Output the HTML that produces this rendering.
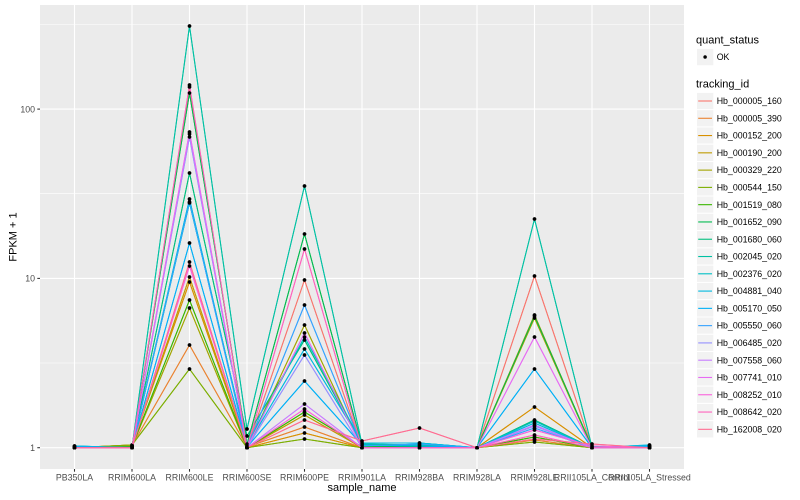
<!DOCTYPE html>
<html><head><meta charset="utf-8"><style>
html,body{margin:0;padding:0;background:#fff;}
svg{display:block;font-family:"Liberation Sans",Arial,sans-serif;}
</style></head><body>
<svg width="800" height="500" viewBox="0 0 800 500" xmlns="http://www.w3.org/2000/svg">
<defs>
<marker id="pt" markerUnits="userSpaceOnUse" markerWidth="4" markerHeight="4" refX="2" refY="2" viewBox="0 0 4 4"><circle cx="2" cy="2" r="1.75" fill="#000"/></marker>
</defs>
<rect x="0" y="0" width="800" height="500" fill="#fff"/>
<rect x="40" y="5" width="644" height="464" fill="#EBEBEB"/>
<g stroke="#fff" stroke-width="0.55">
<line x1="40" x2="684" y1="363" y2="363"/>
<line x1="40" x2="684" y1="193.7" y2="193.7"/>
<line x1="40" x2="684" y1="24.4" y2="24.4"/>
</g>
<g stroke="#fff" stroke-width="1.1">
<line x1="40" x2="684" y1="447.7" y2="447.7"/>
<line x1="40" x2="684" y1="278.4" y2="278.4"/>
<line x1="40" x2="684" y1="109.1" y2="109.1"/>
<line x1="74.5" x2="74.5" y1="5" y2="469"/>
<line x1="132" x2="132" y1="5" y2="469"/>
<line x1="189.5" x2="189.5" y1="5" y2="469"/>
<line x1="247" x2="247" y1="5" y2="469"/>
<line x1="304.5" x2="304.5" y1="5" y2="469"/>
<line x1="362" x2="362" y1="5" y2="469"/>
<line x1="419.5" x2="419.5" y1="5" y2="469"/>
<line x1="477" x2="477" y1="5" y2="469"/>
<line x1="534.5" x2="534.5" y1="5" y2="469"/>
<line x1="592" x2="592" y1="5" y2="469"/>
<line x1="649.5" x2="649.5" y1="5" y2="469"/>
</g>
<g fill="none" stroke-width="1.05" stroke-linejoin="round">
<polyline id="s1" stroke="#F8766D" points="74.5,447.7 132,447 189.5,87 247,447.7 304.5,280 362,447.7 419.5,447.7 477,447.7 534.5,276 592,447.7 649.5,447.7"/>
<polyline id="s2" stroke="#EA8331" points="74.5,447.7 132,445.5 189.5,345 247,447 304.5,427 362,447.7 419.5,447.7 477,447.7 534.5,440 592,447.7 649.5,447.7"/>
<polyline id="s3" stroke="#D89000" points="74.5,447.7 132,445 189.5,282 247,447.7 304.5,433 362,447.7 419.5,447.7 477,447.7 534.5,407 592,447.7 649.5,447.7"/>
<polyline id="s4" stroke="#C09B00" points="74.5,447.7 132,446 189.5,277 247,447.7 304.5,415 362,447.7 419.5,447 477,447.7 534.5,315 592,447.7 649.5,447.7"/>
<polyline id="s5" stroke="#A3A500" points="74.5,447.7 132,446.5 189.5,308 247,447.7 304.5,325 362,447.7 419.5,447.7 477,447.7 534.5,318 592,447.7 649.5,447.7"/>
<polyline id="s6" stroke="#7CAE00" points="74.5,447.7 132,445 189.5,369 247,447.7 304.5,439 362,447.7 419.5,447.7 477,447.7 534.5,442 592,447.7 649.5,447.7"/>
<polyline id="s7" stroke="#39B600" points="74.5,447.7 132,446.5 189.5,300 247,447.7 304.5,412 362,447 419.5,447.7 477,447.7 534.5,437 592,447.7 649.5,447"/>
<polyline id="s8" stroke="#00BB4E" points="74.5,447.7 132,447 189.5,93 247,444 304.5,234 362,446 419.5,447 477,447.7 534.5,316 592,447 649.5,447.7"/>
<polyline id="s9" stroke="#00BF7D" points="74.5,447.7 132,447.7 189.5,173 247,436 304.5,340 362,445 419.5,446 477,447.7 534.5,420 592,447.7 649.5,447"/>
<polyline id="s10" stroke="#00C1A3" points="74.5,447 132,447.7 189.5,26 247,429 304.5,186 362,444 419.5,445 477,447.7 534.5,219 592,447 649.5,446"/>
<polyline id="s11" stroke="#00BFC4" points="74.5,446 132,447.7 189.5,203 247,444 304.5,337 362,443 419.5,443 477,447.7 534.5,421 592,447.7 649.5,446"/>
<polyline id="s12" stroke="#00BAE0" points="74.5,446 132,447.7 189.5,199 247,446 304.5,349 362,443 419.5,443 477,447.7 534.5,423 592,447.7 649.5,445"/>
<polyline id="s13" stroke="#00B0F6" points="74.5,446.5 132,447.5 189.5,243 247,447 304.5,381 362,445 419.5,446 477,447.7 534.5,369 592,447.7 649.5,446"/>
<polyline id="s14" stroke="#35A2FF" points="74.5,447.7 132,447.7 189.5,202 247,447.7 304.5,305 362,446 419.5,444 477,447.7 534.5,428 592,447.7 649.5,447"/>
<polyline id="s15" stroke="#9590FF" points="74.5,447.7 132,447.7 189.5,137 247,447.7 304.5,355 362,447.7 419.5,447.7 477,447.7 534.5,426 592,447.7 649.5,447.7"/>
<polyline id="s16" stroke="#C77CFF" points="74.5,447.7 132,447.7 189.5,134 247,447.7 304.5,404 362,447.7 419.5,447.7 477,447.7 534.5,425 592,447.7 649.5,447.7"/>
<polyline id="s17" stroke="#E76BF3" points="74.5,447.7 132,447.7 189.5,132 247,447.7 304.5,333 362,447.7 419.5,447.7 477,447.7 534.5,337 592,447.7 649.5,447.7"/>
<polyline id="s18" stroke="#FA62DB" points="74.5,447.7 132,447.7 189.5,266 247,447.7 304.5,409 362,447.7 419.5,447.7 477,447.7 534.5,430 592,446 649.5,447.7"/>
<polyline id="s19" stroke="#FF62BC" points="74.5,447.7 132,447.7 189.5,85 247,447.7 304.5,249 362,447.7 419.5,447.7 477,447.7 534.5,435 592,447.7 649.5,447.7"/>
<polyline id="s20" stroke="#FF6C91" points="74.5,447.7 132,447.7 189.5,262 247,447.7 304.5,420 362,441 419.5,428 477,447.7 534.5,439 592,444 649.5,447.7"/>
</g>
<g fill="none" stroke="none" marker-start="url(#pt)" marker-mid="url(#pt)" marker-end="url(#pt)">
<use href="#s1"/><use href="#s2"/><use href="#s3"/><use href="#s4"/><use href="#s5"/>
<use href="#s6"/><use href="#s7"/><use href="#s8"/><use href="#s9"/><use href="#s10"/>
<use href="#s11"/><use href="#s12"/><use href="#s13"/><use href="#s14"/><use href="#s15"/>
<use href="#s16"/><use href="#s17"/><use href="#s18"/><use href="#s19"/><use href="#s20"/>
</g>
<g fill="#000" stroke="none">
<circle cx="74.5" cy="447.7" r="1.75"/><circle cx="74.5" cy="446" r="1.75"/><circle cx="74.5" cy="447" r="1.75"/>
<circle cx="132" cy="447.7" r="1.75"/><circle cx="132" cy="445.5" r="1.75"/><circle cx="132" cy="446.5" r="1.75"/>
<circle cx="189.5" cy="26" r="1.75"/><circle cx="189.5" cy="87" r="1.75"/><circle cx="189.5" cy="93" r="1.75"/><circle cx="189.5" cy="85" r="1.75"/>
<circle cx="189.5" cy="132" r="1.75"/><circle cx="189.5" cy="134" r="1.75"/><circle cx="189.5" cy="137" r="1.75"/><circle cx="189.5" cy="173" r="1.75"/>
<circle cx="189.5" cy="199" r="1.75"/><circle cx="189.5" cy="202" r="1.75"/><circle cx="189.5" cy="203" r="1.75"/><circle cx="189.5" cy="243" r="1.75"/>
<circle cx="189.5" cy="262" r="1.75"/><circle cx="189.5" cy="266" r="1.75"/><circle cx="189.5" cy="277" r="1.75"/><circle cx="189.5" cy="282" r="1.75"/>
<circle cx="189.5" cy="300" r="1.75"/><circle cx="189.5" cy="308" r="1.75"/><circle cx="189.5" cy="345" r="1.75"/><circle cx="189.5" cy="369" r="1.75"/>
<circle cx="247" cy="429" r="1.75"/><circle cx="247" cy="436" r="1.75"/><circle cx="247" cy="444" r="1.75"/><circle cx="247" cy="446" r="1.75"/><circle cx="247" cy="447.7" r="1.75"/>
<circle cx="304.5" cy="186" r="1.75"/><circle cx="304.5" cy="234" r="1.75"/><circle cx="304.5" cy="249" r="1.75"/><circle cx="304.5" cy="280" r="1.75"/>
<circle cx="304.5" cy="305" r="1.75"/><circle cx="304.5" cy="325" r="1.75"/><circle cx="304.5" cy="333" r="1.75"/><circle cx="304.5" cy="337" r="1.75"/>
<circle cx="304.5" cy="340" r="1.75"/><circle cx="304.5" cy="349" r="1.75"/><circle cx="304.5" cy="355" r="1.75"/><circle cx="304.5" cy="381" r="1.75"/>
<circle cx="304.5" cy="404" r="1.75"/><circle cx="304.5" cy="409" r="1.75"/><circle cx="304.5" cy="412" r="1.75"/><circle cx="304.5" cy="415" r="1.75"/>
<circle cx="304.5" cy="420" r="1.75"/><circle cx="304.5" cy="427" r="1.75"/><circle cx="304.5" cy="433" r="1.75"/><circle cx="304.5" cy="439" r="1.75"/>
<circle cx="362" cy="441" r="1.75"/><circle cx="362" cy="443" r="1.75"/><circle cx="362" cy="445" r="1.75"/><circle cx="362" cy="447.7" r="1.75"/>
<circle cx="419.5" cy="428" r="1.75"/><circle cx="419.5" cy="443" r="1.75"/><circle cx="419.5" cy="445" r="1.75"/><circle cx="419.5" cy="447.7" r="1.75"/>
<circle cx="477" cy="447.7" r="1.75"/>
<circle cx="534.5" cy="219" r="1.75"/><circle cx="534.5" cy="276" r="1.75"/><circle cx="534.5" cy="315" r="1.75"/><circle cx="534.5" cy="316" r="1.75"/>
<circle cx="534.5" cy="318" r="1.75"/><circle cx="534.5" cy="337" r="1.75"/><circle cx="534.5" cy="369" r="1.75"/><circle cx="534.5" cy="407" r="1.75"/>
<circle cx="534.5" cy="420" r="1.75"/><circle cx="534.5" cy="421" r="1.75"/><circle cx="534.5" cy="423" r="1.75"/><circle cx="534.5" cy="425" r="1.75"/>
<circle cx="534.5" cy="426" r="1.75"/><circle cx="534.5" cy="428" r="1.75"/><circle cx="534.5" cy="430" r="1.75"/><circle cx="534.5" cy="435" r="1.75"/>
<circle cx="534.5" cy="437" r="1.75"/><circle cx="534.5" cy="439" r="1.75"/><circle cx="534.5" cy="440" r="1.75"/><circle cx="534.5" cy="442" r="1.75"/>
<circle cx="592" cy="444" r="1.75"/><circle cx="592" cy="446" r="1.75"/><circle cx="592" cy="447.7" r="1.75"/>
<circle cx="649.5" cy="445" r="1.75"/><circle cx="649.5" cy="446" r="1.75"/><circle cx="649.5" cy="447.7" r="1.75"/>
</g>
<g stroke="#333333" stroke-width="1.07">
<line x1="37.3" x2="40" y1="447.7" y2="447.7"/>
<line x1="37.3" x2="40" y1="278.4" y2="278.4"/>
<line x1="37.3" x2="40" y1="109.1" y2="109.1"/>
<line x1="74.5" x2="74.5" y1="469" y2="471.7"/>
<line x1="132" x2="132" y1="469" y2="471.7"/>
<line x1="189.5" x2="189.5" y1="469" y2="471.7"/>
<line x1="247" x2="247" y1="469" y2="471.7"/>
<line x1="304.5" x2="304.5" y1="469" y2="471.7"/>
<line x1="362" x2="362" y1="469" y2="471.7"/>
<line x1="419.5" x2="419.5" y1="469" y2="471.7"/>
<line x1="477" x2="477" y1="469" y2="471.7"/>
<line x1="534.5" x2="534.5" y1="469" y2="471.7"/>
<line x1="592" x2="592" y1="469" y2="471.7"/>
<line x1="649.5" x2="649.5" y1="469" y2="471.7"/>
</g>
<g fill="#4D4D4D" font-size="8.8" text-anchor="end">
<text x="35" y="450.9">1</text>
<text x="35" y="281.6">10</text>
<text x="35" y="112.3">100</text>
</g>
<g fill="#4D4D4D" font-size="8.8" text-anchor="middle">
<text x="74.5" y="480.5">PB350LA</text>
<text x="132" y="480.5">RRIM600LA</text>
<text x="189.5" y="480.5">RRIM600LE</text>
<text x="247" y="480.5">RRIM600SE</text>
<text x="304.5" y="480.5">RRIM600PE</text>
<text x="362" y="480.5">RRIM901LA</text>
<text x="419.5" y="480.5">RRIM928BA</text>
<text x="477" y="480.5">RRIM928LA</text>
<text x="534.5" y="480.5">RRIM928LE</text>
<text x="592" y="480.5">RRII105LA_Control</text>
<text x="649.5" y="480.5">RRII105LA_Stressed</text>
</g>
<text x="362" y="491" font-size="11" text-anchor="middle" fill="#000">sample_name</text>
<text transform="translate(16.5,237) rotate(-90)" font-size="11" text-anchor="middle" fill="#000">FPKM + 1</text>
<text x="696" y="43.5" font-size="11" fill="#000">quant_status</text>
<rect x="696.5" y="48.4" width="17.3" height="17.3" fill="#F2F2F2" stroke="#fff" stroke-width="1"/>
<circle cx="705.1" cy="57" r="1.75" fill="#000"/>
<text x="716.7" y="60.1" font-size="8.8" fill="#000">OK</text>
<text x="696" y="87.3" font-size="11" fill="#000">tracking_id</text>
<g font-size="8.8" fill="#000">
<g transform="translate(0,101)"><rect x="696.5" y="-8.64" width="17.3" height="17.28" fill="#F2F2F2" stroke="#fff"/><line x1="698.2" x2="712" y1="0" y2="0" stroke="#F8766D" stroke-width="1.1"/><text x="716.7" y="3.1">Hb_000005_160</text></g>
<g transform="translate(0,118.28)"><rect x="696.5" y="-8.64" width="17.3" height="17.28" fill="#F2F2F2" stroke="#fff"/><line x1="698.2" x2="712" y1="0" y2="0" stroke="#EA8331" stroke-width="1.1"/><text x="716.7" y="3.1">Hb_000005_390</text></g>
<g transform="translate(0,135.56)"><rect x="696.5" y="-8.64" width="17.3" height="17.28" fill="#F2F2F2" stroke="#fff"/><line x1="698.2" x2="712" y1="0" y2="0" stroke="#D89000" stroke-width="1.1"/><text x="716.7" y="3.1">Hb_000152_200</text></g>
<g transform="translate(0,152.84)"><rect x="696.5" y="-8.64" width="17.3" height="17.28" fill="#F2F2F2" stroke="#fff"/><line x1="698.2" x2="712" y1="0" y2="0" stroke="#C09B00" stroke-width="1.1"/><text x="716.7" y="3.1">Hb_000190_200</text></g>
<g transform="translate(0,170.12)"><rect x="696.5" y="-8.64" width="17.3" height="17.28" fill="#F2F2F2" stroke="#fff"/><line x1="698.2" x2="712" y1="0" y2="0" stroke="#A3A500" stroke-width="1.1"/><text x="716.7" y="3.1">Hb_000329_220</text></g>
<g transform="translate(0,187.4)"><rect x="696.5" y="-8.64" width="17.3" height="17.28" fill="#F2F2F2" stroke="#fff"/><line x1="698.2" x2="712" y1="0" y2="0" stroke="#7CAE00" stroke-width="1.1"/><text x="716.7" y="3.1">Hb_000544_150</text></g>
<g transform="translate(0,204.68)"><rect x="696.5" y="-8.64" width="17.3" height="17.28" fill="#F2F2F2" stroke="#fff"/><line x1="698.2" x2="712" y1="0" y2="0" stroke="#39B600" stroke-width="1.1"/><text x="716.7" y="3.1">Hb_001519_080</text></g>
<g transform="translate(0,221.96)"><rect x="696.5" y="-8.64" width="17.3" height="17.28" fill="#F2F2F2" stroke="#fff"/><line x1="698.2" x2="712" y1="0" y2="0" stroke="#00BB4E" stroke-width="1.1"/><text x="716.7" y="3.1">Hb_001652_090</text></g>
<g transform="translate(0,239.24)"><rect x="696.5" y="-8.64" width="17.3" height="17.28" fill="#F2F2F2" stroke="#fff"/><line x1="698.2" x2="712" y1="0" y2="0" stroke="#00BF7D" stroke-width="1.1"/><text x="716.7" y="3.1">Hb_001680_060</text></g>
<g transform="translate(0,256.52)"><rect x="696.5" y="-8.64" width="17.3" height="17.28" fill="#F2F2F2" stroke="#fff"/><line x1="698.2" x2="712" y1="0" y2="0" stroke="#00C1A3" stroke-width="1.1"/><text x="716.7" y="3.1">Hb_002045_020</text></g>
<g transform="translate(0,273.8)"><rect x="696.5" y="-8.64" width="17.3" height="17.28" fill="#F2F2F2" stroke="#fff"/><line x1="698.2" x2="712" y1="0" y2="0" stroke="#00BFC4" stroke-width="1.1"/><text x="716.7" y="3.1">Hb_002376_020</text></g>
<g transform="translate(0,291.08)"><rect x="696.5" y="-8.64" width="17.3" height="17.28" fill="#F2F2F2" stroke="#fff"/><line x1="698.2" x2="712" y1="0" y2="0" stroke="#00BAE0" stroke-width="1.1"/><text x="716.7" y="3.1">Hb_004881_040</text></g>
<g transform="translate(0,308.36)"><rect x="696.5" y="-8.64" width="17.3" height="17.28" fill="#F2F2F2" stroke="#fff"/><line x1="698.2" x2="712" y1="0" y2="0" stroke="#00B0F6" stroke-width="1.1"/><text x="716.7" y="3.1">Hb_005170_050</text></g>
<g transform="translate(0,325.64)"><rect x="696.5" y="-8.64" width="17.3" height="17.28" fill="#F2F2F2" stroke="#fff"/><line x1="698.2" x2="712" y1="0" y2="0" stroke="#35A2FF" stroke-width="1.1"/><text x="716.7" y="3.1">Hb_005550_060</text></g>
<g transform="translate(0,342.92)"><rect x="696.5" y="-8.64" width="17.3" height="17.28" fill="#F2F2F2" stroke="#fff"/><line x1="698.2" x2="712" y1="0" y2="0" stroke="#9590FF" stroke-width="1.1"/><text x="716.7" y="3.1">Hb_006485_020</text></g>
<g transform="translate(0,360.2)"><rect x="696.5" y="-8.64" width="17.3" height="17.28" fill="#F2F2F2" stroke="#fff"/><line x1="698.2" x2="712" y1="0" y2="0" stroke="#C77CFF" stroke-width="1.1"/><text x="716.7" y="3.1">Hb_007558_060</text></g>
<g transform="translate(0,377.48)"><rect x="696.5" y="-8.64" width="17.3" height="17.28" fill="#F2F2F2" stroke="#fff"/><line x1="698.2" x2="712" y1="0" y2="0" stroke="#E76BF3" stroke-width="1.1"/><text x="716.7" y="3.1">Hb_007741_010</text></g>
<g transform="translate(0,394.76)"><rect x="696.5" y="-8.64" width="17.3" height="17.28" fill="#F2F2F2" stroke="#fff"/><line x1="698.2" x2="712" y1="0" y2="0" stroke="#FA62DB" stroke-width="1.1"/><text x="716.7" y="3.1">Hb_008252_010</text></g>
<g transform="translate(0,412.04)"><rect x="696.5" y="-8.64" width="17.3" height="17.28" fill="#F2F2F2" stroke="#fff"/><line x1="698.2" x2="712" y1="0" y2="0" stroke="#FF62BC" stroke-width="1.1"/><text x="716.7" y="3.1">Hb_008642_020</text></g>
<g transform="translate(0,429.32)"><rect x="696.5" y="-8.64" width="17.3" height="17.28" fill="#F2F2F2" stroke="#fff"/><line x1="698.2" x2="712" y1="0" y2="0" stroke="#FF6C91" stroke-width="1.1"/><text x="716.7" y="3.1">Hb_162008_020</text></g>
</g>
</svg>
</body></html>
